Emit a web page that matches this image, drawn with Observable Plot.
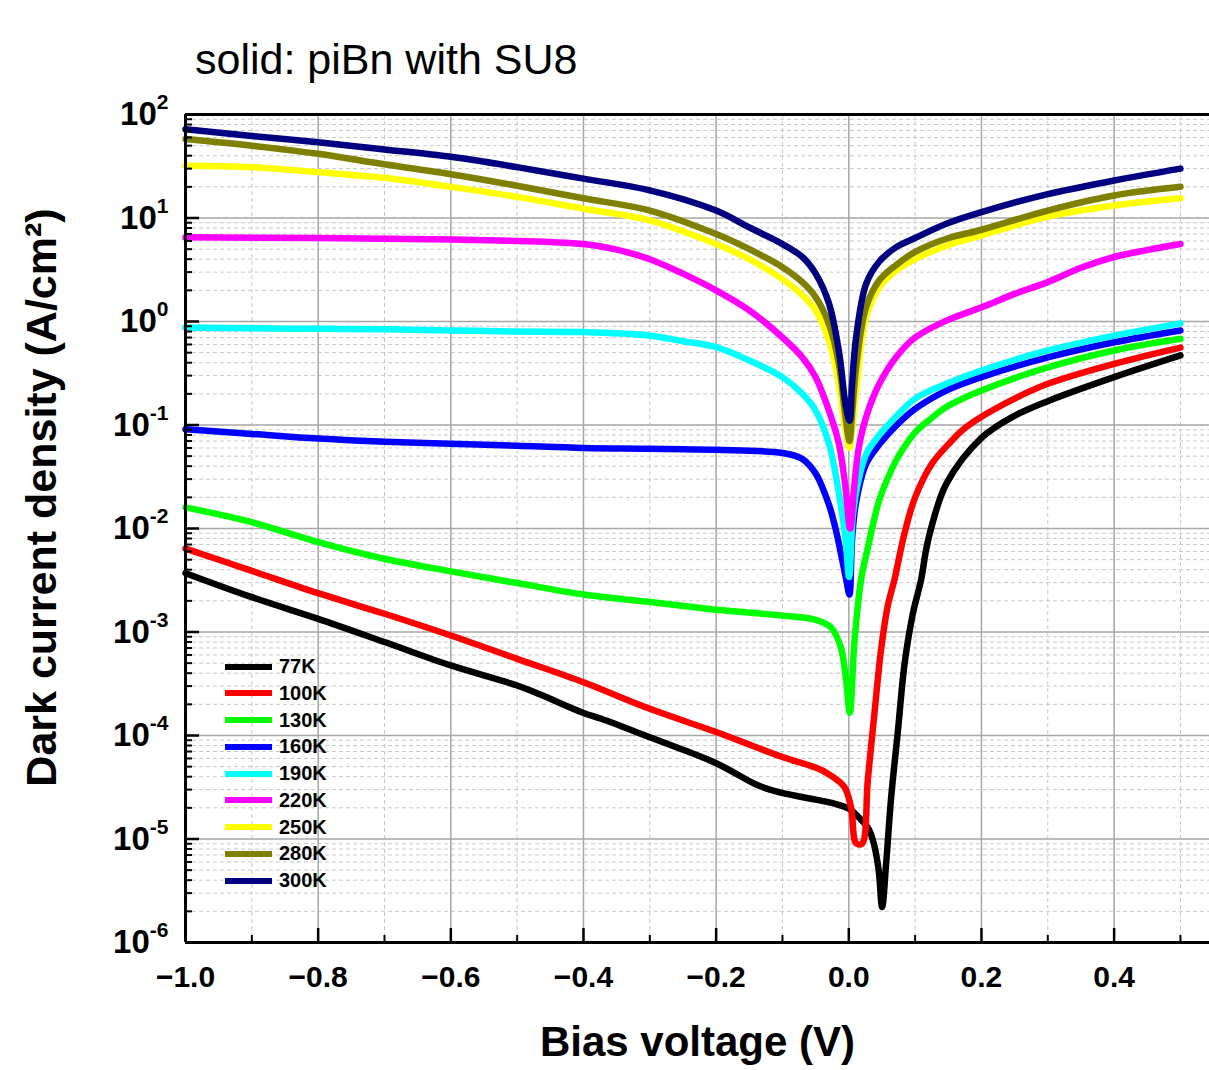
<!DOCTYPE html>
<html>
<head>
<meta charset="utf-8">
<script src="https://cdn.jsdelivr.net/npm/d3@7"></script>
<script src="https://cdn.jsdelivr.net/npm/@observablehq/plot@0.6"></script>
<style>
  body { margin: 0; background: white; }
  #wrap { position: relative; width: 1209px; height: 1070px; font-family: 'Liberation Sans', Arial, Helvetica, sans-serif; }
  #title { position: relative; height: 90px; }
  #title span { position: absolute; left: 195px; top: 38px; font-size: 43px; line-height: 43px; color: #000; white-space: nowrap; }
  #legend { position: absolute; left: 225px; top: 653px; }
  .row { position: relative; height: 26.75px; }
  .row .sw { position: absolute; left: 0; top: 10.5px; width: 47px; height: 6px; }
  .row .lb { position: absolute; left: 54px; top: 3px; font-size: 20px; line-height: 20px; font-weight: bold; color: #000; white-space: nowrap; }
</style>
</head>
<body>
<div id="wrap">
  <div id="title"><span>solid: piBn with SU8</span></div>
  <div id="chart"></div>
  <div id="legend"></div>
</div>
<script>
// ---------- data ----------
const series = ["77K", "100K", "130K", "160K", "190K", "220K", "250K", "280K", "300K"];
const colors = ["#000000", "#ff0000", "#00ff00", "#0000ff", "#00ffff", "#ff00ff", "#ffff00", "#808000", "#000080"];

const v77 = [-1, -0.9, -0.8, -0.7, -0.6, -0.5, -0.466, -0.4, -0.373, -0.3, -0.2, -0.137, -0.102, -0.05, -0.022, 0.001, 0.01, 0.02, 0.03, 0.038, 0.045, 0.0502, 0.0562, 0.0638, 0.074, 0.084, 0.0965, 0.109, 0.1165, 0.124, 0.147, 0.2, 0.247, 0.3, 0.4, 0.5];
const j77 = [3.7e-3, 2.17e-3, 1.34e-3, 8.0e-4, 4.75e-4, 3.04e-4, 2.5e-4, 1.65e-4, 1.45e-4, 9.6e-5, 5.4e-5, 3.3e-5, 2.8e-5, 2.4e-5, 2.2e-5, 1.95e-5, 1.74e-5, 1.5e-5, 1.25e-5, 8.9e-6, 5e-6, 2.2e-6, 5.7e-6, 2.5e-5, 1.1e-4, 4.9e-4, 1.5e-3, 3.2e-3, 6.2e-3, 1.0e-2, 2.7e-2, 7.5e-2, 0.12, 0.17, 0.29, 0.47];

const v100 = [-1, -0.9, -0.8, -0.7, -0.6, -0.5, -0.4, -0.3, -0.2, -0.1, -0.05, -0.032, -0.007, 0.0035, 0.011, 0.02, 0.0286, 0.0386, 0.0487, 0.0588, 0.0688, 0.084, 0.1, 0.125, 0.15, 0.172, 0.2, 0.25, 0.3, 0.4, 0.5];
const j100 = [6.4e-3, 3.9e-3, 2.37e-3, 1.5e-3, 9.25e-4, 5.5e-4, 3.27e-4, 1.81e-4, 1.08e-4, 6.2e-5, 4.9e-5, 4.3e-5, 3.2e-5, 2.0e-5, 9.1e-6, 9.0e-6, 3.7e-5, 1.62e-4, 6.8e-4, 1.8e-3, 3.2e-3, 9e-3, 2.0e-2, 4.2e-2, 6.5e-2, 9e-2, 0.12, 0.18, 0.25, 0.39, 0.56];

const v130 = [-1, -0.9, -0.8, -0.7, -0.6, -0.5, -0.4, -0.3, -0.2, -0.1, -0.05, -0.027, -0.012, -0.004, 0.0015, 0.0085, 0.0185, 0.028, 0.045, 0.06, 0.075, 0.1, 0.12, 0.147, 0.2, 0.3, 0.4, 0.5];
const j130 = [0.016, 0.0115, 0.0074, 0.0051, 0.00385, 0.00297, 0.0023, 0.00195, 0.00164, 0.00144, 0.00131, 0.00111, 0.00071, 0.00034, 0.000166, 0.0008, 0.0032, 0.0062, 0.018, 0.032, 0.05, 0.085, 0.11, 0.149, 0.215, 0.36, 0.525, 0.68];

const v160 = [-1, -0.9, -0.8, -0.7, -0.6, -0.5, -0.4, -0.3, -0.2, -0.1, -0.07, -0.05, -0.03, -0.02, -0.01, -0.003, 0.001, 0.005, 0.011, 0.026, 0.046, 0.071, 0.1, 0.147, 0.2, 0.3, 0.4, 0.5];
const j160 = [0.091, 0.082, 0.074, 0.069, 0.066, 0.063, 0.060, 0.059, 0.0576, 0.0536, 0.047, 0.034, 0.017, 0.010, 0.005, 0.003, 0.0023, 0.008, 0.018, 0.042, 0.065, 0.098, 0.143, 0.215, 0.29, 0.45, 0.63, 0.82];

const v190 = [-1, -0.9, -0.8, -0.7, -0.6, -0.5, -0.4, -0.3, -0.25, -0.2, -0.15, -0.1, -0.07, -0.05, -0.03, -0.015, -0.005, 0.0005, 0.006, 0.0135, 0.026, 0.046, 0.071, 0.1, 0.147, 0.2, 0.3, 0.4, 0.5];
const j190 = [0.875, 0.86, 0.85, 0.84, 0.82, 0.80, 0.79, 0.73, 0.645, 0.565, 0.42, 0.29, 0.2, 0.138, 0.066, 0.022, 0.008, 0.0034, 0.013, 0.027, 0.052, 0.08, 0.12, 0.18, 0.25, 0.336, 0.525, 0.73, 0.96];

const v220 = [-1, -0.8, -0.6, -0.5, -0.45, -0.4, -0.353, -0.3, -0.25, -0.2, -0.15, -0.1, -0.07, -0.05, -0.03, -0.015, -0.005, 0.002, 0.008, 0.015, 0.026, 0.046, 0.071, 0.1, 0.147, 0.2, 0.25, 0.3, 0.35, 0.4, 0.45, 0.5];
const j220 = [6.5, 6.4, 6.2, 6.0, 5.85, 5.6, 5.0, 4.0, 2.9, 2.0, 1.28, 0.70, 0.45, 0.29, 0.138, 0.066, 0.025, 0.01, 0.025, 0.06, 0.119, 0.25, 0.45, 0.70, 1.02, 1.37, 1.85, 2.4, 3.3, 4.2, 4.9, 5.6];

const vHot = [-1, -0.9, -0.8, -0.7, -0.6, -0.5, -0.4, -0.3, -0.2, -0.15, -0.1, -0.07, -0.05, -0.03, -0.015, -0.005, 0.001, 0.005, 0.011, 0.026, 0.046, 0.071, 0.1, 0.147, 0.2, 0.3, 0.4, 0.5];
const j250 = [32, 31, 27.7, 24.5, 20, 16, 12.3, 9.5, 5.6, 4.0, 2.57, 1.8, 1.28, 0.66, 0.25, 0.09, 0.06, 0.09, 0.215, 1.1, 2.14, 3.1, 4.0, 5.4, 6.8, 10.3, 13.2, 15.5];
const j280 = [58, 50, 41.7, 33, 26.5, 20.5, 15.5, 11.8, 7.0, 5.0, 3.35, 2.4, 1.72, 0.95, 0.39, 0.12, 0.07, 0.13, 0.36, 1.37, 2.5, 3.5, 4.7, 6.3, 7.7, 11.8, 16.5, 20];
const j300 = [72, 62, 54, 46, 39, 31, 24, 18.5, 11.8, 8.1, 5.6, 4.2, 2.9, 1.5, 0.52, 0.16, 0.11, 0.25, 0.7, 2.3, 3.8, 5.2, 6.4, 8.8, 11.4, 17, 23, 30];

const volts = [v77, v100, v130, v160, v190, v220, vHot, vHot, vHot];
const dens = [j77, j100, j130, j160, j190, j220, j250, j280, j300];

// tick positions
const xMajor = [-1.0, -0.8, -0.6, -0.4, -0.2, 0.0, 0.2, 0.4];
const xMinor = [-0.9, -0.7, -0.5, -0.3, -0.1, 0.1, 0.3, 0.5];
const yMajor = [1e-6, 1e-5, 1e-4, 1e-3, 1e-2, 1e-1, 1e0, 1e1, 1e2];
const yMinor = [];
for (let e = -6; e < 2; e++) for (let m = 2; m <= 9; m++) yMinor.push(m * Math.pow(10, e));

const title = "solid: piBn with SU8";
const xTitle = "Bias voltage (V)";
const yTitle = "Dark current density (A/cm²)";

// ---------- table ----------
const rows = [];
series.forEach((s, i) => volts[i].forEach((v, k) => rows.push({T: s, V: v, J: dens[i][k]})));

// ---------- chart ----------
const W = 1209, H = 980, mL = 185, mR = 0, mT = 24, mB = 128;
const pw = W - mL - mR, ph = H - mT - mB;

const chart = Plot.plot({
  width: W, height: H,
  marginLeft: mL, marginRight: mR, marginTop: mT, marginBottom: mB,
  style: {fontFamily: "'Liberation Sans', Arial, Helvetica, sans-serif", background: "white", color: "black"},
  x: {domain: [-1, 0.5438]},
  y: {type: "log", domain: [1e-6, 1e2]},
  color: {domain: series, range: colors},
  marks: [
    Plot.ruleY(yMinor, {stroke: "#c8c8c8", strokeWidth: 1, strokeDasharray: "4,3"}),
    Plot.ruleX(xMinor, {stroke: "#c8c8c8", strokeWidth: 1, strokeDasharray: "4,3"}),
    Plot.ruleY(yMajor, {stroke: "#a6a6a6", strokeWidth: 1.5}),
    Plot.ruleX(xMajor, {stroke: "#a6a6a6", strokeWidth: 1.5}),
    Plot.line(rows, {x: "V", y: "J", z: "T", stroke: "T", strokeWidth: 6.5, curve: "catmull-rom", strokeLinejoin: "round", strokeLinecap: "round"}),
    Plot.ruleX([-1], {stroke: "black", strokeWidth: 3}),
    Plot.ruleY([1e-6], {stroke: "black", strokeWidth: 3}),
    Plot.ruleY([1e2], {stroke: "black", strokeWidth: 3}),
    Plot.ruleY(yMajor, {insetRight: pw - 14, stroke: "black", strokeWidth: 2.5}),
    Plot.ruleY(yMinor, {insetRight: pw - 7, stroke: "black", strokeWidth: 2}),
    Plot.ruleX(xMajor, {insetTop: ph - 14, stroke: "black", strokeWidth: 2.5}),
    Plot.ruleX(xMinor, {insetTop: ph - 7, stroke: "black", strokeWidth: 2}),
    Plot.axisX(xMajor, {tickSize: 0, tickPadding: 23, fontSize: 30, fontWeight: "bold", label: null,
      tickFormat: d => d.toFixed(1).replace("-", "\u2212")}),
    Plot.axisY(yMajor, {tickSize: 0, tickPadding: 17, fontSize: 33, fontWeight: "bold", label: null,
      tickFormat: d => "10^" + Math.round(Math.log10(d))}),
    Plot.text([xTitle], {text: d => d, frameAnchor: "bottom", dy: 113, fontSize: 42, fontWeight: "bold", textAnchor: "middle"}),
    Plot.text([yTitle], {text: d => d, frameAnchor: "left", textAnchor: "middle", rotate: -90, dx: -143, dy: -31, fontSize: 43, fontWeight: "bold"})
  ]
});

// superscript exponents on the y tick labels
const NS = "http://www.w3.org/2000/svg";
chart.querySelectorAll('g[aria-label="y-axis tick label"] text').forEach(t => {
  const s = t.textContent;
  if (!s.includes("^")) return;
  const [base, exp] = s.split("^");
  t.textContent = "";
  const a = document.createElementNS(NS, "tspan");
  a.textContent = base;
  const b = document.createElementNS(NS, "tspan");
  b.textContent = exp;
  b.setAttribute("dy", "-16");
  b.setAttribute("font-size", "21");
  t.appendChild(a);
  t.appendChild(b);
});

document.getElementById("chart").appendChild(chart);
document.querySelector("#title span").textContent = title;

// legend
const legend = document.getElementById("legend");
series.forEach((s, i) => {
  const r = document.createElement("div");
  r.className = "row";
  const sw = document.createElement("div");
  sw.className = "sw";
  sw.style.background = colors[i];
  const lb = document.createElement("div");
  lb.className = "lb";
  lb.textContent = s;
  r.appendChild(sw);
  r.appendChild(lb);
  legend.appendChild(r);
});
</script>
</body>
</html>
